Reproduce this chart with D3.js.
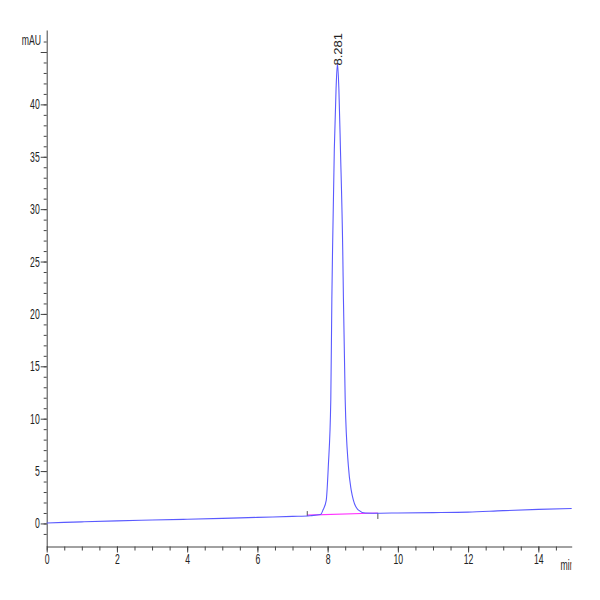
<!DOCTYPE html>
<html>
<head>
<meta charset="utf-8">
<script src="https://cdn.jsdelivr.net/npm/d3@7"></script>
<style>
  body { margin: 0; background: #fff; }
  text { font-family: "Liberation Sans", Arial, sans-serif; fill: #222; }
</style>
</head>
<body>
<div id="chart-area"></div>
<script>
// chromatogram trace (min, mAU)
const times = [0, 1, 2, 3, 4, 5, 6, 7, 7.5, 7.8, 7.87, 7.96, 8.02, 8.09, 8.12, 8.14, 8.19, 8.24, 8.28,
               8.32, 8.365, 8.43, 8.45, 8.5, 8.59, 8.67, 8.735, 8.87, 9.07, 9.5, 10, 11, 12, 13, 14, 14.95];
const signal = [0.05, 0.15, 0.25, 0.33, 0.4, 0.48, 0.58, 0.68, 0.74, 0.85, 1.3, 2.2, 5.5, 11.8, 21.4, 26.1, 35.7, 41.5, 43.9,
                41.5, 35.7, 26.1, 21.4, 11.8, 5.5, 3.2, 2.2, 1.3, 1.0, 0.98, 1.0, 1.03, 1.08, 1.22, 1.34, 1.43];

// integration baseline and markers
const baseTimes = [7.42, 9.43];
const baseValues = [0.8, 1.0];

const peakTime = 8.281;
const peakHeight = 43.9;
const peakLabel = '8.281';

const xTickLabels = [0, 2, 4, 6, 8, 10, 12, 14];
const yTickLabels = [0, 5, 10, 15, 20, 25, 30, 35, 40];
const yMajorTicks = [0, 5, 10, 15, 20, 25, 30, 35, 40, 45];

const squeeze = 0.62;

const svg = d3.select('#chart-area')
    .append('svg')
        .attr('width', 600)
        .attr('height', 600);

const x = d3.scaleLinear()
    .domain([0, 14.95])
    .range([46.7, 571.7]);

const y = d3.scaleLinear()
    .domain([-2.2, 47.1])
    .range([546.5, 30]);

// minor ticks
svg.append('g')
    .attr('transform', `translate(0, ${y(-2.2)})`)
    .call(d3.axisBottom(x).tickValues(d3.range(0, 14.95, 0.5)).tickSize(4).tickFormat(''))
    .call(g => g.select('.domain').remove())
    .selectAll('line').attr('stroke', '#444');

svg.append('g')
    .attr('transform', `translate(${x(0)}, 0)`)
    .call(d3.axisLeft(y).tickValues(d3.range(-1, 47, 1)).tickSize(3).tickFormat(''))
    .call(g => g.select('.domain').remove())
    .selectAll('line').attr('stroke', '#444');

// X axis
const xAxis = svg.append('g')
    .attr('class', 'x axis')
    .attr('transform', `translate(0, ${y(-2.2)})`)
    .call(d3.axisBottom(x).tickValues(xTickLabels).tickSize(6).tickSizeOuter(0));
xAxis.select('.domain').attr('stroke', '#444');
xAxis.selectAll('line').attr('stroke', '#444');
xAxis.selectAll('text')
    .attr('font-size', '14px')
    .attr('y', 8)
    .attr('fill', '#222')
    .attr('transform', `scale(${squeeze}, 1)`);

// Y axis
const yAxis = svg.append('g')
    .attr('class', 'y axis')
    .attr('transform', `translate(${x(0)}, 0)`)
    .call(d3.axisLeft(y).tickValues(yMajorTicks).tickSize(6).tickSizeOuter(0)
        .tickFormat(d => yTickLabels.includes(d) ? d : ''));
yAxis.select('.domain').attr('stroke', '#444');
yAxis.selectAll('line').attr('stroke', '#444');
yAxis.selectAll('text')
    .attr('font-size', '14px')
    .attr('x', 0)
    .attr('fill', '#222')
    .attr('transform', `translate(-7, 0) scale(${squeeze}, 1)`);

// unit labels
svg.append('text')
    .attr('font-size', '14px')
    .attr('text-anchor', 'end')
    .attr('transform', `translate(41, 45) scale(${squeeze}, 1)`)
    .text('mAU');

svg.append('clipPath')
    .attr('id', 'clip-min')
    .append('rect')
        .attr('x', 540).attr('y', 550).attr('width', 31.5).attr('height', 30);

svg.append('g')
    .attr('clip-path', 'url(#clip-min)')
    .append('text')
        .attr('font-size', '14px')
        .attr('transform', `translate(560.5, 570) scale(${squeeze}, 1)`)
        .text('min');

// integration baseline
const baseLine = d3.line()
    .x((d, i) => x(baseTimes[i]))
    .y(d => y(d));

svg.append('path')
    .datum(baseValues)
    .attr('fill', 'none')
    .attr('stroke', '#ff33ff')
    .attr('stroke-width', 1.2)
    .attr('d', baseLine);

// start / end markers
svg.append('line')
    .attr('x1', x(baseTimes[0])).attr('x2', x(baseTimes[0]))
    .attr('y1', y(baseValues[0]) - 4).attr('y2', y(baseValues[0]) + 1)
    .attr('stroke', '#555');
svg.append('line')
    .attr('x1', x(baseTimes[1])).attr('x2', x(baseTimes[1]))
    .attr('y1', y(baseValues[1])).attr('y2', y(baseValues[1]) + 6)
    .attr('stroke', '#555');

// trace
const trace = d3.line()
    .x((d, i) => x(times[i]))
    .y(d => y(d))
    .curve(d3.curveMonotoneX);

svg.append('path')
    .datum(signal)
    .attr('fill', 'none')
    .attr('stroke', '#5a5aff')
    .attr('stroke-width', 1.1)
    .attr('d', trace);

// peak label
svg.append('text')
    .attr('font-size', '13px')
    .attr('fill', '#222')
    .attr('transform', `translate(${x(peakTime) + 4.5}, ${y(peakHeight) + 2}) scale(0.78, 1) rotate(-90)`)
    .text(peakLabel);
</script>
</body>
</html>
